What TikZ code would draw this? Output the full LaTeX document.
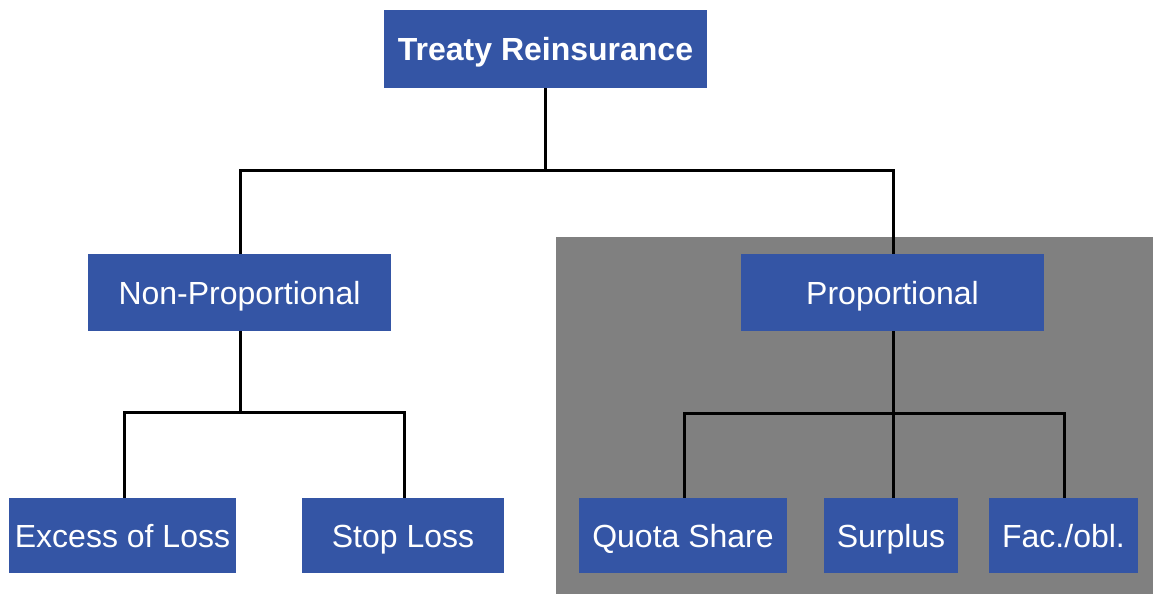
\documentclass[tikz,border=0pt]{standalone}
\usepackage{fontspec}
\setmainfont{Liberation Sans}
\definecolor{boxblue}{HTML}{3455A5}
\definecolor{panelgray}{HTML}{808080}
\begin{document}
\begin{tikzpicture}[x=1pt,y=-1pt,
  box/.style={fill=boxblue, draw=none, text=white, inner sep=0pt,
    minimum height=77pt, font=\fontsize{32}{38}\selectfont,
    text height=23pt, text depth=0pt, anchor=center},
  conn/.style={draw=black, line width=3pt, line join=miter}]
\useasboundingbox (0,0) rectangle (1153,594);
\fill[panelgray] (555.5,237) rectangle (1153,594);
\node[box, minimum width=323pt, minimum height=78pt, font=\fontsize{32}{38}\selectfont\bfseries] (top) at (545.5,49) {Treaty Reinsurance};
\node[box, minimum width=303pt] (np) at (239.5,292.5) {Non-Proportional};
\node[box, minimum width=303pt] (pr) at (892.5,292.5) {Proportional};
\node[box, minimum width=227pt, minimum height=75pt] (xl) at (122.5,535.5) {Excess of Loss};
\node[box, minimum width=202pt, minimum height=75pt] (sl) at (403,535.5) {Stop Loss};
\node[box, minimum width=208pt, minimum height=75pt] (qs) at (683,535.5) {Quota Share};
\node[box, minimum width=134pt, minimum height=75pt] (sp) at (891,535.5) {Surplus};
\node[box, minimum width=149pt, minimum height=75pt] (fo) at (1063.5,535.5) {Fac./obl.};
\coordinate (b1) at (545,170);
\coordinate (b2) at (240,412);
\coordinate (b3) at (893,413);
\draw[conn] (top.south -| b1) -- (b1);
\draw[conn] (np.north -| 240,0) |- (b1) -| (pr.north -| 893,0);
\draw[conn] (np.south -| b2) -- (b2);
\draw[conn] (xl.north -| 124,0) |- (b2) -| (sl.north -| 404,0);
\draw[conn] (pr.south -| b3) -- (b3);
\draw[conn] (qs.north -| 684,0) |- (b3) -| (fo.north -| 1064,0);
\draw[conn] (sp.north -| b3) -- (b3);
\end{tikzpicture}
\end{document}
